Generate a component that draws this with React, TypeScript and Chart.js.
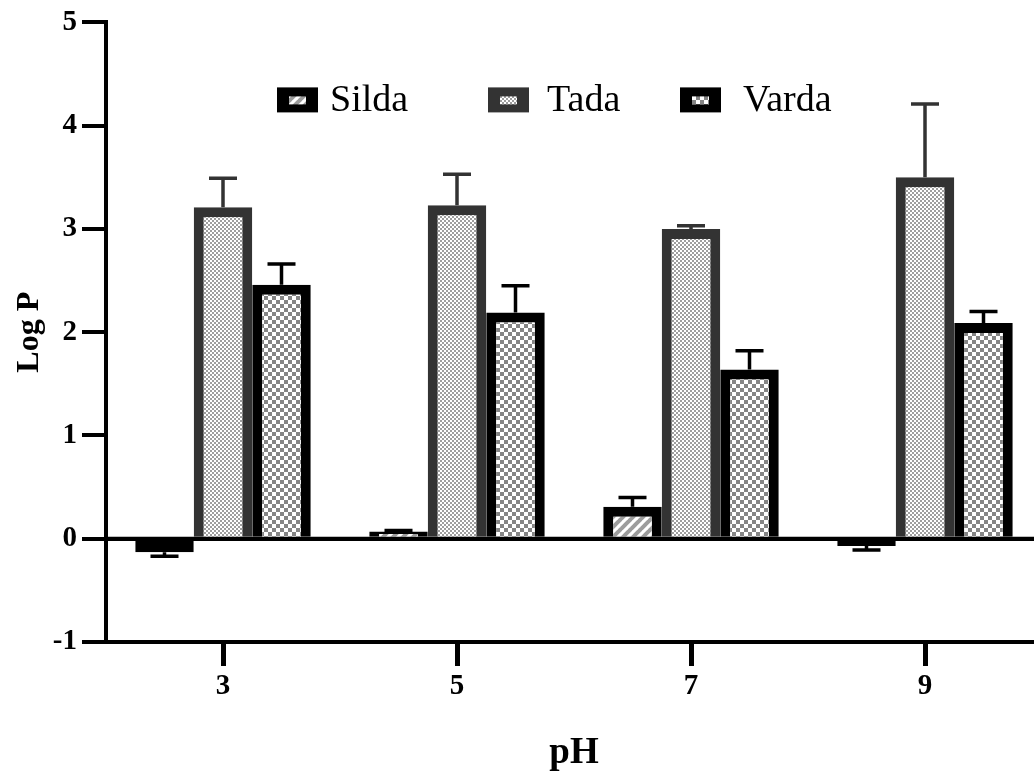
import React, { useEffect, useRef } from 'react';
import { Chart, registerables } from 'chart.js';
Chart.register(...registerables);

// ---- Data ----
const categories = ['3', '5', '7', '9'];
const seriesNames = ['Silda', 'Tada', 'Varda'];
const sildaValues = [-0.13, 0.07, 0.31, -0.07];
const sildaErrors = [0.04, 0.01, 0.09, 0.04];
const tadaValues = [3.21, 3.23, 3.0, 3.5];
const tadaErrors = [0.28, 0.3, 0.03, 0.71];
const vardaValues = [2.46, 2.19, 1.64, 2.09];
const vardaErrors = [0.2, 0.26, 0.18, 0.11];
const yMin = -1;
const yMax = 5;
const yStep = 1;

const FONT = "'Liberation Serif', 'Times New Roman', serif";
const W = 1045;
const H = 772;

function makePattern(kind: string): CanvasPattern {
  const c = document.createElement('canvas');
  const g = c.getContext('2d')!;
  if (kind === 'stripe') {
    c.width = 10; c.height = 10;
    g.fillStyle = '#ffffff';
    g.fillRect(0, 0, 10, 10);
    g.strokeStyle = '#9c9c9c';
    g.lineWidth = 4;
    for (const o of [-10, 0, 10]) {
      g.beginPath();
      g.moveTo(o - 1, 11);
      g.lineTo(o + 11, -1);
      g.stroke();
    }
  } else {
    const cell = kind === 'fine' ? 2 : 4;
    const col = kind === 'fine' ? '#9e9e9e' : '#858585';
    c.width = cell * 2; c.height = cell * 2;
    g.fillStyle = '#ffffff';
    g.fillRect(0, 0, cell * 2, cell * 2);
    g.fillStyle = col;
    g.fillRect(0, 0, cell, cell);
    g.fillRect(cell, cell, cell, cell);
  }
  return g.createPattern(c, 'repeat')!;
}

const errorBarPlugin = {
  id: 'errorBars',
  afterDatasetsDraw(chart: any) {
    const ctx = chart.ctx;
    const y = chart.scales.y;
    const area = chart.chartArea;
    const y0 = y.getPixelForValue(0);
    ctx.save();
    ctx.strokeStyle = '#000';
    ctx.lineWidth = 4;
    ctx.beginPath();
    ctx.moveTo(area.left, y0);
    ctx.lineTo(area.right, y0);
    ctx.stroke();
    chart.data.datasets.forEach((ds: any, i: number) => {
      const meta = chart.getDatasetMeta(i);
      ctx.strokeStyle = ds.borderColor;
      ctx.lineWidth = 3.5;
      meta.data.forEach((el: any, j: number) => {
        const v = ds.data[j];
        const e = ds.errors[j];
        const end = v >= 0 ? v + e : v - e;
        const py = y.getPixelForValue(v);
        const pe = y.getPixelForValue(end);
        ctx.beginPath();
        ctx.moveTo(el.x, py);
        ctx.lineTo(el.x, pe);
        ctx.moveTo(el.x - 14, pe);
        ctx.lineTo(el.x + 14, pe);
        ctx.stroke();
      });
    });
    ctx.restore();
  },
};

const legendLayout = [
  { box: 171, text: 224 },
  { box: 382, text: 441 },
  { box: 574, text: 637 },
];

const legendPlugin = {
  id: 'insideLegend',
  afterDraw(chart: any) {
    const ctx = chart.ctx;
    const area = chart.chartArea;
    ctx.save();
    chart.data.datasets.forEach((ds: any, i: number) => {
      const lx = area.left + legendLayout[i].box;
      const ly = area.top + 65;
      ctx.fillStyle = ds.borderColor;
      ctx.fillRect(lx, ly, 41, 25);
      ctx.fillStyle = ds.backgroundColor;
      ctx.fillRect(lx + 12, ly + 9, 17, 8);
      ctx.fillStyle = '#000';
      ctx.font = `38px ${FONT}`;
      ctx.textBaseline = 'alphabetic';
      ctx.textAlign = 'left';
      ctx.fillText(ds.label, area.left + legendLayout[i].text, ly + 24);
    });
    ctx.restore();
  },
};

const skipForPositive = (c: any) => (c.raw < 0 ? false : 'start');

export default function App() {
  const ref = useRef<HTMLCanvasElement>(null);
  useEffect(() => {
    const canvas = ref.current!;
    const sildaPat = makePattern('stripe');
    const tadaPat = makePattern('fine');
    const vardaPat = makePattern('coarse');
    const chart = new Chart(canvas, {
      type: 'bar',
      data: {
        labels: categories,
        datasets: [
          { label: seriesNames[0], data: sildaValues, errors: sildaErrors, backgroundColor: sildaPat, borderColor: '#000000', borderWidth: 10, borderSkipped: skipForPositive } as any,
          { label: seriesNames[1], data: tadaValues, errors: tadaErrors, backgroundColor: tadaPat, borderColor: '#333333', borderWidth: 10 } as any,
          { label: seriesNames[2], data: vardaValues, errors: vardaErrors, backgroundColor: vardaPat, borderColor: '#000000', borderWidth: 10 } as any,
        ],
      },
      options: {
        responsive: false,
        animation: false,
        devicePixelRatio: 1,
        layout: { padding: { top: 18, right: 3, left: 0, bottom: 0 } },
        datasets: { bar: { categoryPercentage: 0.75, barPercentage: 1 } },
        plugins: { legend: { display: false }, tooltip: { enabled: false } },
        scales: {
          x: {
            type: 'category',
            offset: true,
            afterFit: (s: any) => { s.height = 130; },
            grid: { offset: false, drawOnChartArea: false, drawTicks: true, tickLength: 24, tickWidth: 5, tickColor: '#000' },
            border: { display: true, color: '#000', width: 4 },
            ticks: { color: '#000', font: { family: FONT, size: 29, weight: 'bold' }, padding: 3 },
            title: { display: true, text: 'pH', color: '#000', font: { family: FONT, size: 37, weight: 'bold', lineHeight: 1 }, padding: 0 },
          },
          y: {
            min: yMin,
            max: yMax,
            afterFit: (s: any) => { s.width = 106; },
            ticks: { stepSize: yStep, color: '#000', font: { family: FONT, size: 29, weight: 'bold' }, padding: 5 },
            grid: {
              drawOnChartArea: true,
              color: (c: any) => (c.tick && c.tick.value === 0 ? '#000' : 'rgba(0,0,0,0)'),
              lineWidth: 4,
              drawTicks: true,
              tickLength: 24,
              tickWidth: 4,
              tickColor: '#000',
            },
            border: { display: true, color: '#000', width: 4 },
            title: { display: true, text: 'Log P', color: '#000', font: { family: FONT, size: 32, weight: 'bold', lineHeight: 1.2 }, padding: { top: 11, bottom: 0 } },
          },
        },
      } as any,
      plugins: [errorBarPlugin, legendPlugin],
    });
    return () => chart.destroy();
  }, []);
  return (
    <div style={{ position: 'fixed', left: 0, top: 0, width: W, height: H, background: '#fff' }}>
      <canvas ref={ref} width={W} height={H} style={{ display: 'block', width: W, height: H }} />
    </div>
  );
}
